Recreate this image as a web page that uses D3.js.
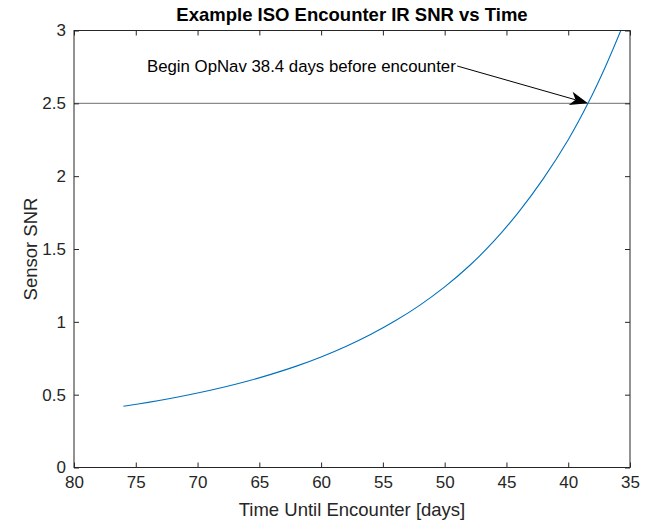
<!DOCTYPE html>
<html>
<head>
<meta charset="utf-8">
<script src="https://cdn.jsdelivr.net/npm/d3@7"></script>
<style>
  html, body { margin: 0; padding: 0; background: #fff; }
  svg { display: block; font-family: "Liberation Sans", Arial, Helvetica, sans-serif; }
</style>
</head>
<body>
<svg id="chart" width="652" height="524"></svg>
<script>
// Time until encounter (days) and the sensor SNR at that time
const days = [76, 74, 72, 70, 68, 66, 64, 62, 60, 58, 56, 54, 52, 50, 48, 46, 44, 42, 40, 38.4, 37, 35.5];
const snr  = [0.420, 0.447, 0.477, 0.511, 0.549, 0.592, 0.641, 0.696, 0.759, 0.831, 0.913, 1.007, 1.115, 1.240, 1.385, 1.555, 1.755, 1.985, 2.250, 2.500, 2.750, 3.050];

const xTicks = [80, 75, 70, 65, 60, 55, 50, 45, 40, 35];
const yTicks = [0, 0.5, 1, 1.5, 2, 2.5, 3];

const threshold = 2.5;
const opnavDay = 38.4;
const titleText = "Example ISO Encounter IR SNR vs Time";
const xLabelText = "Time Until Encounter [days]";
const yLabelText = "Sensor SNR";
const noteText = "Begin OpNav 38.4 days before encounter";

const svg = d3.select("#chart");
const m = { left: 74, right: 630, top: 30.5, bottom: 467.5 };
const ink = "#262626";

// Reversed time axis: counting down toward the encounter
const x = d3.scaleLinear().domain([80, 35]).range([m.left, m.right]);
const y = d3.scaleLinear().domain([0, 3]).range([m.bottom, m.top]);

svg.append("defs").append("clipPath").attr("id", "plotArea")
  .append("rect")
  .attr("x", m.left).attr("y", m.top)
  .attr("width", m.right - m.left).attr("height", m.bottom - m.top);

// Threshold line
svg.append("line")
  .attr("x1", m.left).attr("x2", m.right)
  .attr("y1", y(threshold)).attr("y2", y(threshold))
  .attr("stroke", "#8a8a8a").attr("stroke-width", 1.4);

// SNR curve
const line = d3.line().x((d, i) => x(days[i])).y(d => y(d)).curve(d3.curveCatmullRom);
svg.append("path")
  .datum(snr)
  .attr("clip-path", "url(#plotArea)")
  .attr("d", line)
  .attr("fill", "none")
  .attr("stroke", "#0072BD")
  .attr("stroke-width", 1.1);

// Axes with inward ticks on all four sides
const tickLen = 5;
const fs = 17;
const axBottom = d3.axisBottom(x).tickValues(xTicks).tickSize(-tickLen).tickPadding(8).tickFormat(d3.format("d"));
const axTop = d3.axisTop(x).tickValues(xTicks).tickSize(-tickLen).tickFormat("");
const axLeft = d3.axisLeft(y).tickValues(yTicks).tickSize(-tickLen).tickPadding(8).tickFormat(d => String(d));
const axRight = d3.axisRight(y).tickValues(yTicks).tickSize(-tickLen).tickFormat("");

function styleAxis(g) {
  g.selectAll(".domain").remove();
  g.selectAll(".tick line").attr("stroke", ink).attr("stroke-width", 1);
  g.selectAll(".tick text").attr("fill", ink).attr("font-size", fs)
    .attr("font-family", "Liberation Sans, Arial, sans-serif");
}

svg.append("g").attr("transform", `translate(0,${m.bottom})`).call(axBottom).call(styleAxis)
  .selectAll(".tick text").attr("dy", "0.71em");
svg.append("g").attr("transform", `translate(0,${m.top})`).call(axTop).call(styleAxis);
svg.append("g").attr("transform", `translate(${m.left},0)`).call(axLeft).call(styleAxis);
svg.append("g").attr("transform", `translate(${m.right},0)`).call(axRight).call(styleAxis);

// Box
svg.append("rect")
  .attr("x", m.left).attr("y", m.top)
  .attr("width", m.right - m.left).attr("height", m.bottom - m.top)
  .attr("fill", "none").attr("stroke", ink).attr("stroke-width", 1);

// Title and axis labels
const cx = (m.left + m.right) / 2;
svg.append("text").attr("x", cx).attr("y", 21)
  .attr("text-anchor", "middle").attr("font-weight", "bold").attr("font-size", 18.5)
  .attr("fill", "#000").text(titleText);
svg.append("text").attr("x", cx).attr("y", 516)
  .attr("text-anchor", "middle").attr("font-size", 18.5).attr("fill", ink).text(xLabelText);
svg.append("text")
  .attr("transform", `translate(37,${(m.top + m.bottom) / 2}) rotate(-90)`)
  .attr("text-anchor", "middle").attr("font-size", 18.5).attr("fill", ink).text(yLabelText);

// Annotation: text with an arrow pointing at the threshold crossing
const note = svg.append("text").attr("x", 147).attr("y", 72)
  .attr("font-size", 16.8).attr("fill", "#000").text(noteText);
const tb = note.node().getBBox();
const ax0 = tb.x + tb.width + 1, ay0 = 66;
const ax1 = x(opnavDay), ay1 = y(threshold);
const ang = Math.atan2(ay1 - ay0, ax1 - ax0);
const headLen = 18, headW = 7, back = 5;
const ux = Math.cos(ang), uy = Math.sin(ang), px = -uy, py = ux;
const bx = ax1 - ux * headLen, by = ay1 - uy * headLen;
const nx = ax1 - ux * (headLen - back), ny = ay1 - uy * (headLen - back);
svg.append("line")
  .attr("x1", ax0).attr("y1", ay0).attr("x2", nx).attr("y2", ny)
  .attr("stroke", "#000").attr("stroke-width", 1);
svg.append("path")
  .attr("d", `M${ax1},${ay1} L${bx + px * headW},${by + py * headW} L${nx},${ny} L${bx - px * headW},${by - py * headW} Z`)
  .attr("fill", "#000");
</script>
</body>
</html>
